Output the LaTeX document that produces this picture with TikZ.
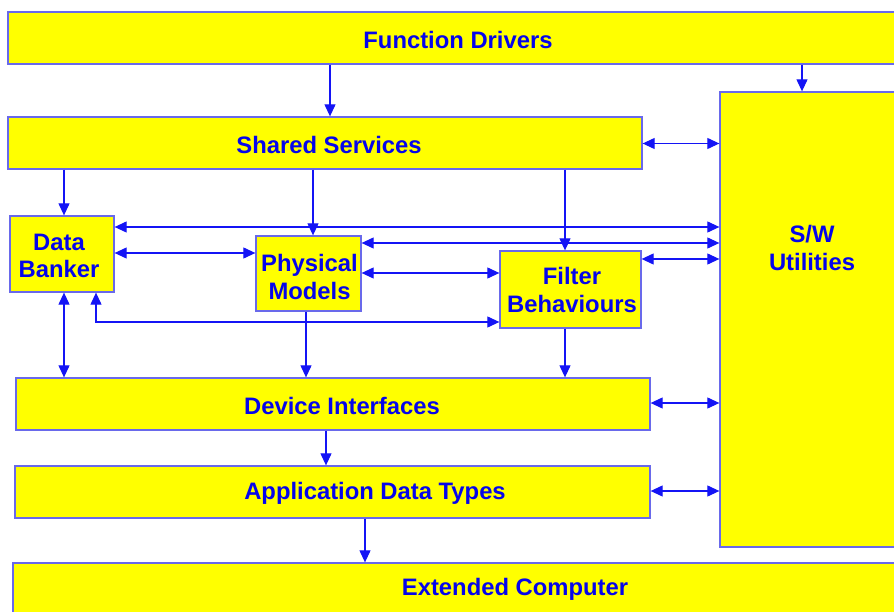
\documentclass[tikz,border=0pt]{standalone}
\usepackage{fontspec}
\setmainfont{Liberation Sans}
\usetikzlibrary{arrows.meta}
\definecolor{boxfill}{RGB}{255,255,0}
\definecolor{boxline}{RGB}{105,105,235}
\definecolor{linkblue}{RGB}{20,20,245}
\definecolor{labelblue}{RGB}{5,5,235}
\begin{document}
\begin{tikzpicture}[x=1pt,y=-1pt,
  box/.style={draw=boxline,fill=boxfill,line width=1.3pt,inner sep=0pt},
  txt/.style={inner sep=0pt,align=center,text=labelblue,
    font=\fontsize{23.8}{27.5}\selectfont\bfseries},
  tip/.tip={Triangle[length=12pt,width=11pt]},
  link/.style={draw=linkblue,line width=1.1pt,-tip},
  both/.style={draw=linkblue,line width=1.1pt,tip-tip}]
\useasboundingbox (0,0) rectangle (894,612);
\clip (0,0) rectangle (894,612);

% layers and modules
\node[box,minimum width=900pt,minimum height=52pt] (fd) at (458,38) {};
\node[txt] at (458,39.5) {Function Drivers};
\node[box,minimum width=634pt,minimum height=52pt] (ss) at (325,143) {};
\node[txt] at (329,144.5) {Shared Services};
\node[box,minimum width=184pt,minimum height=455pt] (sw) at (812,319.5) {};
\node[txt] (swl) at (812,248) {S/W\\Utilities};
\node[box,minimum width=104pt,minimum height=76pt] (db) at (62,254) {};
\node[txt] at (59,256) {Data\\Banker};
\node[box,minimum width=105pt,minimum height=75pt] (pm) at (308.5,273.5) {};
\node[txt] at (309.5,277) {Physical\\Models};
\node[box,minimum width=141pt,minimum height=77pt] (fb) at (570.5,289.5) {};
\node[txt] at (572,290) {Filter\\Behaviours};
\node[box,minimum width=634pt,minimum height=52pt] (di) at (333,404) {};
\node[txt] at (342,405.5) {Device Interfaces};
\node[box,minimum width=635pt,minimum height=52pt] (adt) at (332.5,492) {};
\node[txt] at (375,493.5) {Application Data Types};
\node[box,minimum width=1004pt,minimum height=52pt] (ec) at (515,589) {};
\node[txt] at (515,589) {Extended Computer};

% connector columns and rows
\coordinate (xa) at (330,0);
\coordinate (xb) at (802,0);
\coordinate (xc) at (64,0);
\coordinate (xd) at (313,0);
\coordinate (xe) at (565,0);
\coordinate (xf) at (306,0);
\coordinate (xg) at (96,0);
\coordinate (xh) at (326,0);
\coordinate (xi) at (365,0);
\coordinate (ya) at (0,143.5);
\coordinate (yb) at (0,227);
\coordinate (yc) at (0,243);
\coordinate (yd) at (0,253);
\coordinate (ye) at (0,259);
\coordinate (yf) at (0,273);
\coordinate (yg) at (0,322);
\coordinate (yh) at (0,403);
\coordinate (yi) at (0,491);

% downward flow
\draw[link] (fd.south -| xa) -- (ss.north -| xa);
\draw[link] (fd.south -| xb) -- (sw.north -| xb);
\draw[link] (ss.south -| xc) -- (db.north -| xc);
\draw[link] (ss.south -| xd) -- (pm.north -| xd);
\draw[link] (ss.south -| xe) -- (fb.north -| xe);
\draw[link] (pm.south -| xf) -- (di.north -| xf);
\draw[link] (fb.south -| xe) -- (di.north -| xe);
\draw[link] (di.south -| xh) -- (adt.north -| xh);
\draw[link] (adt.south -| xi) -- (ec.north -| xi);

% two-way links
\draw[both] (ss.east |- ya) -- (sw.west |- ya);
\draw[both] (db.east |- yb) -- (sw.west |- yb);
\draw[both] (pm.east |- yc) -- (sw.west |- yc);
\draw[both] (db.east |- yd) -- (pm.west |- yd);
\draw[both] (fb.east |- ye) -- (sw.west |- ye);
\draw[both] (pm.east |- yf) -- (fb.west |- yf);
\draw[both] (db.south -| xg) -- (xg |- yg) -- (fb.west |- yg);
\draw[both] (db.south -| xc) -- (di.north -| xc);
\draw[both] (di.east |- yh) -- (sw.west |- yh);
\draw[both] (adt.east |- yi) -- (sw.west |- yi);
\end{tikzpicture}
\end{document}
